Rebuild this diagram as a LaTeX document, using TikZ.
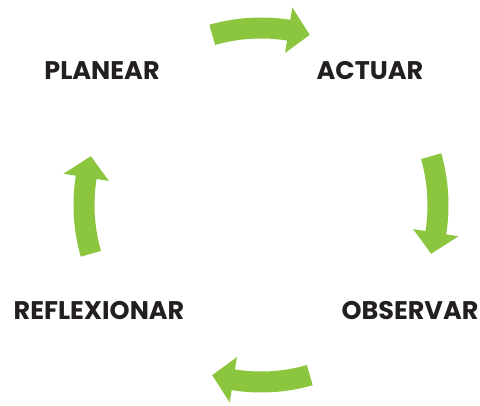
\documentclass[tikz,border=0pt]{standalone}
\usepackage{fontspec}
\newfontfamily\cyclefont{Poppins}
\usetikzlibrary{calc, positioning}
\definecolor{leafgreen}{RGB}{140,198,63}
\definecolor{inkgray}{RGB}{35,31,32}

\tikzset{
  stage/.style={font=\cyclefont\bfseries\fontsize{25.5}{30}\selectfont, text=inkgray, inner sep=0pt},
}

% one curved arrow on the cycle, #1 = angle of its middle
\newcommand{\cyclearrow}[1]{%
  \fill[leafgreen] ($(c)+(#1+16:187.5)$) arc[start angle=#1+16, end angle=#1-9, radius=187.5]
    -- ($(c)+(#1-9:200)$) -- ($(c)+(#1-16:177)$) -- ($(c)+(#1-9:154)$)
    -- ($(c)+(#1-9:166.5)$) arc[start angle=#1-9, end angle=#1+16, radius=166.5] -- cycle;}

\begin{document}
\begin{tikzpicture}[x=1pt, y=1pt]
  \useasboundingbox (0,0) rectangle (480,405);
  \coordinate (c) at (261,200);

  \node (planear) [stage] at (102,334) {PLANEAR};
  \node (actuar) [stage] at (370,334) {ACTUAR};
  \node (observar) [stage] at (410,94) {OBSERVAR};
  \node (reflexionar) [stage] at (99,94) {REFLEXIONAR};

  \foreach \a in {90, 0, 270, 180} {
    \cyclearrow{\a}
  }
\end{tikzpicture}
\end{document}
